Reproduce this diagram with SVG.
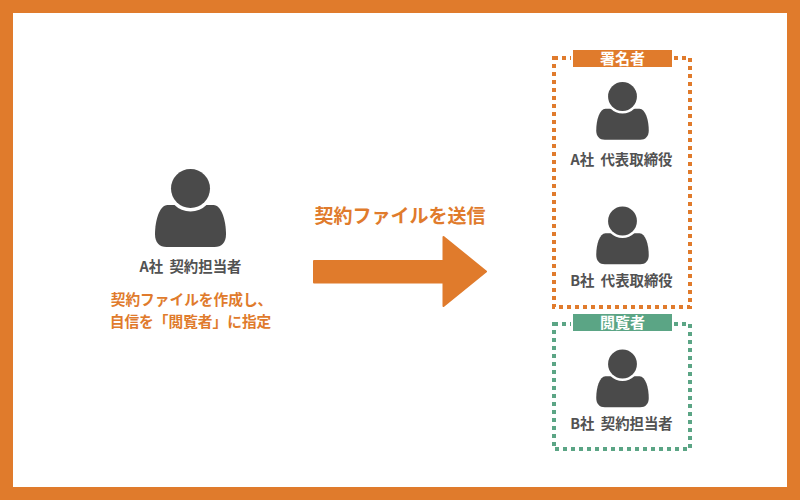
<svg xmlns="http://www.w3.org/2000/svg" width="800" height="500" viewBox="0 0 800 500">
  <style>
    text { font-family: "Noto Sans CJK JP", "Noto Sans", sans-serif; text-anchor: middle; }
    .name { font-size: 14.400px; font-weight: 700; fill: #525252; word-spacing: 3px; }
    .note { font-size: 14.700px; font-weight: 700; fill: #e07b2c; }
    .tag { font-size: 15px; font-weight: 700; fill: #ffffff; }
    .frame { fill: none; stroke-width: 4; stroke-dasharray: 4 4; }
  </style>
  <defs>
    <g id="person">
      <path fill="#4a4a4a" d="M-23,16.500 C-31,16.500 -35.500,32 -35.500,46 C-35.500,54 -31,58.500 -24,58.500 L24,58.500 C31,58.500 35.500,54 35.500,46 C35.500,32 31,16.500 23,16.500 Z"/>
      <circle r="23" fill="#ffffff"/>
      <circle r="19.500" fill="#4a4a4a"/>
    </g>
  </defs>
  <rect x="6.500" y="6.500" width="787" height="487" fill="#ffffff" stroke="#e07b2c" stroke-width="13"/>

  <g id="sender">
    <use href="#person" transform="translate(190.500 188.500)"/>
    <text class="name" x="190.500" y="272">A社 契約担当者</text>
    <text class="note" x="191.500" y="305">契約ファイルを作成し、</text>
    <text class="note" x="190.500" y="327">自信を「閲覧者」に指定</text>
  </g>

  <g id="connectors">
    <text x="400" y="223" font-size="19" font-weight="700" fill="#e07b2c">契約ファイルを送信</text>
    <path fill="#e07b2c" stroke="#e07b2c" stroke-width="2" stroke-linejoin="round" d="M314,261 H443.500 V237 L486,271.500 L443.500,306 V282.500 H314 Z"/>
  </g>

  <g id="signers">
    <rect class="frame" stroke="#e07b2c" x="554" y="58" width="136" height="249"/>
    <rect x="571" y="48" width="103" height="20" fill="#ffffff"/>
    <rect x="573" y="50" width="99" height="17" fill="#e07b2c"/>
    <text class="tag" x="622.500" y="63.500">署名者</text>
  </g>
  <g id="signer-a">
    <use href="#person" transform="translate(622.500 96.500) scale(0.74)"/>
    <text class="name" x="621.500" y="165">A社 代表取締役</text>
  </g>
  <g id="signer-b">
    <use href="#person" transform="translate(622.500 221) scale(0.74)"/>
    <text class="name" x="621.500" y="286">B社 代表取締役</text>
  </g>

  <g id="viewers">
    <rect class="frame" stroke="#5ba585" x="554" y="324" width="136" height="125"/>
    <rect x="571" y="312" width="103" height="21" fill="#ffffff"/>
    <rect x="573" y="314" width="99" height="17" fill="#5ba585"/>
    <text class="tag" x="622.500" y="327.500">閲覧者</text>
  </g>
  <g id="viewer-b">
    <use href="#person" transform="translate(622.500 364) scale(0.74)"/>
    <text class="name" x="621.500" y="429">B社 契約担当者</text>
  </g>
</svg>
